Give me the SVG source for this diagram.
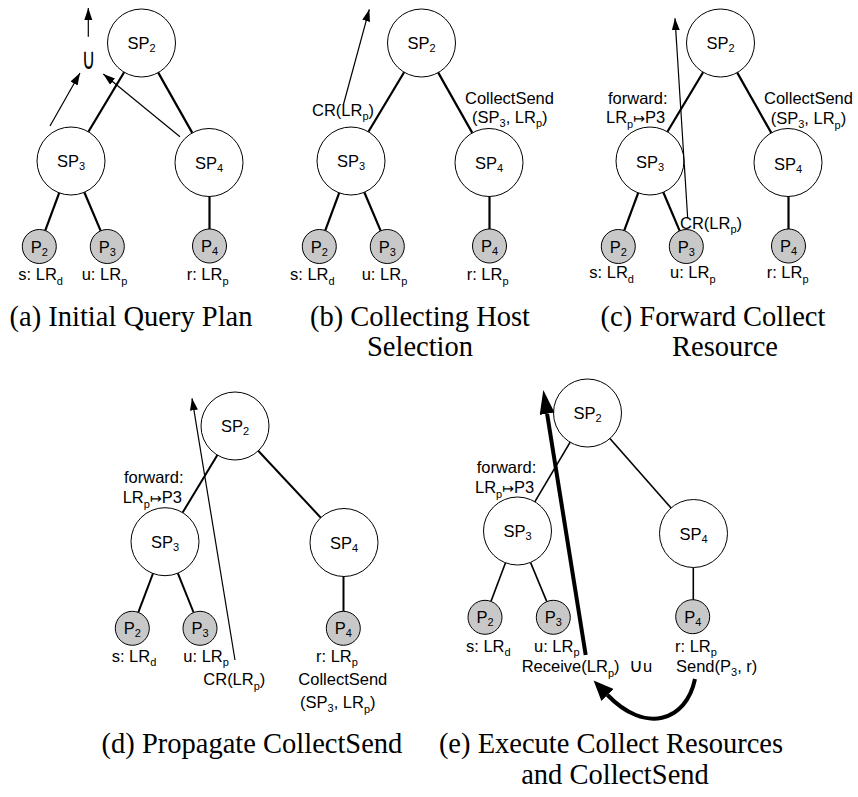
<svg xmlns="http://www.w3.org/2000/svg" width="858" height="797" viewBox="0 0 858 797">
<style>
.t{font-family:"Liberation Sans",Arial,sans-serif;font-size:16.5px;fill:#000}
.s{font-size:11px}
.m{font-family:"DejaVu Sans",sans-serif;font-size:14px}
.u{font-family:"DejaVu Sans",sans-serif}
.cap{font-family:"Liberation Serif","Times New Roman",serif;font-size:28.5px;fill:#000}
.big{fill:#fff;stroke:#000;stroke-width:1}
.sm{fill:#c8c8c8;stroke:#000;stroke-width:1}
.e{stroke:#000;stroke-width:2.2;fill:none}
.e2{stroke:#000;stroke-width:2;fill:none}
.e3{stroke:#000;stroke-width:1.6;fill:none}
.a{stroke:#000;stroke-width:1.2;fill:none;marker-end:url(#ah)}
</style>
<defs>
<marker id="ah" markerUnits="userSpaceOnUse" markerWidth="13" markerHeight="9" refX="12" refY="4" orient="auto"><path d="M0,0 L12,4 L0,8 z" fill="#000"/></marker>
<marker id="ahB" markerUnits="userSpaceOnUse" markerWidth="25" markerHeight="16" refX="0" refY="7.5" orient="auto"><path d="M0,0 L24,7.5 L0,15 z" fill="#000"/></marker>
<marker id="ahC" markerUnits="userSpaceOnUse" markerWidth="22" markerHeight="18" refX="0" refY="8.5" orient="auto"><path d="M0,0 L20,8.5 L0,17 z" fill="#000"/></marker>
</defs>
<rect width="858" height="797" fill="#fff"/>

<!-- Panel (a) -->
<g id="panel-a">
<g id="a-connectors">
<line class="e" x1="124.1" y1="72.2" x2="88.4" y2="131.8"/>
<line class="e" x1="158.2" y1="72.6" x2="192.3" y2="132.9"/>
<line class="e" x1="59.2" y1="192.9" x2="45.2" y2="230.6"/>
<line class="e" x1="84.3" y1="192.3" x2="100.7" y2="230.9"/>
<line class="e" x1="209.5" y1="196.5" x2="209.5" y2="229"/>
<line class="a" x1="50" y1="126" x2="80" y2="73"/>
<line class="a" x1="180" y1="136.7" x2="103.3" y2="74"/>
<line class="a" x1="88.3" y1="36.7" x2="88.3" y2="8"/>
</g>
<text class="t u" style="font-size:30px" transform="translate(88.5,68.5) scale(0.62,1)" text-anchor="middle">∪</text>
<g id="a-SP2"><circle class="big" cx="141.5" cy="43" r="34"/><text class="t" x="141.5" y="49" text-anchor="middle">SP<tspan class="s" dy="3">2</tspan></text></g>
<g id="a-SP3"><circle class="big" cx="71" cy="161" r="34"/><text class="t" x="71" y="167" text-anchor="middle">SP<tspan class="s" dy="3">3</tspan></text></g>
<g id="a-SP4"><circle class="big" cx="209" cy="162.5" r="34"/><text class="t" x="209" y="168.5" text-anchor="middle">SP<tspan class="s" dy="3">4</tspan></text></g>
<g id="a-P2"><circle class="sm" cx="39.3" cy="246.5" r="17"/><text class="t" x="39.3" y="252.5" text-anchor="middle">P<tspan class="s" dy="3">2</tspan></text><text class="t" x="18.3" y="280">s: LR<tspan class="s" dy="4.5">d</tspan></text></g>
<g id="a-P3"><circle class="sm" cx="107.3" cy="246.5" r="17"/><text class="t" x="107.3" y="252.5" text-anchor="middle">P<tspan class="s" dy="3">3</tspan></text><text class="t" x="81.7" y="280">u: LR<tspan class="s" dy="4.5">p</tspan></text></g>
<g id="a-P4"><circle class="sm" cx="209.5" cy="246" r="17"/><text class="t" x="209.5" y="252" text-anchor="middle">P<tspan class="s" dy="3">4</tspan></text><text class="t" x="186.7" y="280">r: LR<tspan class="s" dy="4.5">p</tspan></text></g>
<text class="cap" x="131" y="326" text-anchor="middle">(a) Initial Query Plan</text>
</g>

<!-- Panel (b) -->
<g id="panel-b" transform="translate(280,0)">
<g id="b-connectors">
<line class="e" x1="124.1" y1="72.2" x2="88.4" y2="131.8"/>
<line class="e" x1="158.2" y1="72.6" x2="192.3" y2="132.9"/>
<line class="e" x1="59.2" y1="192.9" x2="45.2" y2="230.6"/>
<line class="e" x1="84.3" y1="192.3" x2="100.7" y2="230.9"/>
<line class="e" x1="209.5" y1="196.5" x2="209.5" y2="229"/>
<line class="a" x1="63.3" y1="105" x2="89.3" y2="9.3"/>
</g>
<g id="b-SP2"><circle class="big" cx="141.5" cy="43" r="34"/><text class="t" x="141.5" y="49" text-anchor="middle">SP<tspan class="s" dy="3">2</tspan></text></g>
<g id="b-SP3"><circle class="big" cx="71" cy="161" r="34"/><text class="t" x="71" y="167" text-anchor="middle">SP<tspan class="s" dy="3">3</tspan></text></g>
<g id="b-SP4"><circle class="big" cx="209" cy="162.5" r="34"/><text class="t" x="209" y="168.5" text-anchor="middle">SP<tspan class="s" dy="3">4</tspan></text></g>
<g id="b-P2"><circle class="sm" cx="39.3" cy="246.5" r="17"/><text class="t" x="39.3" y="252.5" text-anchor="middle">P<tspan class="s" dy="3">2</tspan></text><text class="t" x="10" y="280">s: LR<tspan class="s" dy="4.5">d</tspan></text></g>
<g id="b-P3"><circle class="sm" cx="107.3" cy="246.5" r="17"/><text class="t" x="107.3" y="252.5" text-anchor="middle">P<tspan class="s" dy="3">3</tspan></text><text class="t" x="81.7" y="280">u: LR<tspan class="s" dy="4.5">p</tspan></text></g>
<g id="b-P4"><circle class="sm" cx="209.5" cy="246" r="17"/><text class="t" x="209.5" y="252" text-anchor="middle">P<tspan class="s" dy="3">4</tspan></text><text class="t" x="186.7" y="280">r: LR<tspan class="s" dy="4.5">p</tspan></text></g>
<text class="t" x="32" y="115.5">CR(LR<tspan class="s" dy="4.5">p</tspan><tspan dy="-4.5">)</tspan></text>
<text class="t" x="185" y="104">CollectSend</text>
<text class="t" x="192" y="122.5">(SP<tspan class="s" dy="4">3</tspan><tspan dy="-4">, LR</tspan><tspan class="s" dy="4.5">p</tspan><tspan dy="-4.5">)</tspan></text>
<text class="cap" x="140" y="326" text-anchor="middle">(b) Collecting Host</text>
<text class="cap" x="140" y="356" text-anchor="middle">Selection</text>
</g>

<!-- Panel (c) -->
<g id="panel-c" transform="translate(579,0)">
<g id="c-connectors">
<line class="e" x1="124.1" y1="72.2" x2="88.4" y2="131.8"/>
<line class="e" x1="158.2" y1="72.6" x2="192.3" y2="132.9"/>
<line class="e" x1="59.2" y1="192.9" x2="45.2" y2="230.6"/>
<line class="e" x1="84.3" y1="192.3" x2="100.7" y2="230.9"/>
<line class="e" x1="209.5" y1="196.5" x2="209.5" y2="229"/>
<line class="a" x1="108.7" y1="218.3" x2="96" y2="18.3"/>
</g>
<g id="c-SP2"><circle class="big" cx="141.5" cy="43" r="34"/><text class="t" x="141.5" y="49" text-anchor="middle">SP<tspan class="s" dy="3">2</tspan></text></g>
<g id="c-SP3"><circle class="big" cx="71" cy="161" r="34" fill-opacity="0"/><text class="t" x="71" y="168" text-anchor="middle">SP<tspan class="s" dy="3">3</tspan></text></g>
<g id="c-SP4"><circle class="big" cx="209" cy="162.5" r="34"/><text class="t" x="209" y="169.5" text-anchor="middle">SP<tspan class="s" dy="3">4</tspan></text></g>
<g id="c-P2"><circle class="sm" cx="39.3" cy="246.5" r="17"/><text class="t" x="39.3" y="252.5" text-anchor="middle">P<tspan class="s" dy="3">2</tspan></text><text class="t" x="10.3" y="278.3">s: LR<tspan class="s" dy="4.5">d</tspan></text></g>
<g id="c-P3"><circle class="sm" cx="107.3" cy="246.5" r="17"/><text class="t" x="107.3" y="252.5" text-anchor="middle">P<tspan class="s" dy="3">3</tspan></text><text class="t" x="91" y="278.3">u: LR<tspan class="s" dy="4.5">p</tspan></text></g>
<g id="c-P4"><circle class="sm" cx="209.5" cy="246" r="17"/><text class="t" x="209.5" y="252" text-anchor="middle">P<tspan class="s" dy="3">4</tspan></text><text class="t" x="187.7" y="278.3">r: LR<tspan class="s" dy="4.5">p</tspan></text></g>
<text class="t" x="29" y="104">forward:</text>
<text class="t" x="27" y="123">LR<tspan class="s" dy="4.5">p</tspan><tspan class="m" dy="-4.5">↦</tspan>P3</text>
<text class="t" x="185" y="104">CollectSend</text>
<text class="t" x="191.7" y="124">(SP<tspan class="s" dy="4">3</tspan><tspan dy="-4">, LR</tspan><tspan class="s" dy="4.5">p</tspan><tspan dy="-4.5">)</tspan></text>
<text class="t" x="101" y="228.5">CR(LR<tspan class="s" dy="4.5">p</tspan><tspan dy="-4.5">)</tspan></text>
<text class="cap" x="134" y="326" text-anchor="middle">(c) Forward Collect</text>
<text class="cap" x="146" y="356" text-anchor="middle">Resource</text>
</g>

<!-- Panel (d) -->
<g id="panel-d">
<g id="d-connectors">
<line class="e2" x1="217.4" y1="455.1" x2="182.6" y2="512.6"/>
<line class="e2" x1="258.2" y1="450.8" x2="320.8" y2="517.7"/>
<line class="e2" x1="153" y1="573.5" x2="138.3" y2="612.4"/>
<line class="e2" x1="177.8" y1="573.2" x2="193.6" y2="612.5"/>
<line class="e2" x1="343.5" y1="576.5" x2="343.5" y2="611.3"/>
<line class="a" x1="235" y1="660" x2="192" y2="398.3"/>
</g>
<g id="d-SP2"><circle class="big" cx="235" cy="426" r="34" fill-opacity="0"/><text class="t" x="235" y="432" text-anchor="middle">SP<tspan class="s" dy="3">2</tspan></text></g>
<g id="d-SP3"><circle class="big" cx="165" cy="541.7" r="34"/><text class="t" x="165" y="547.7" text-anchor="middle">SP<tspan class="s" dy="3">3</tspan></text></g>
<g id="d-SP4"><circle class="big" cx="344" cy="542.5" r="34"/><text class="t" x="344" y="548.5" text-anchor="middle">SP<tspan class="s" dy="3">4</tspan></text></g>
<g id="d-P2"><circle class="sm" cx="132.3" cy="628.3" r="17"/><text class="t" x="132.3" y="634.3" text-anchor="middle">P<tspan class="s" dy="3">2</tspan></text><text class="t" x="111.7" y="661.7">s: LR<tspan class="s" dy="4.5">d</tspan></text></g>
<g id="d-P3"><circle class="sm" cx="200" cy="628.3" r="17"/><text class="t" x="200" y="634.3" text-anchor="middle">P<tspan class="s" dy="3">3</tspan></text><text class="t" x="183.3" y="661.7">u: LR<tspan class="s" dy="4.5">p</tspan></text></g>
<g id="d-P4"><circle class="sm" cx="343.3" cy="628.3" r="17"/><text class="t" x="343.3" y="634.3" text-anchor="middle">P<tspan class="s" dy="3">4</tspan></text><text class="t" x="316" y="661.7">r: LR<tspan class="s" dy="4.5">p</tspan></text></g>
<text class="t" x="124" y="483">forward:</text>
<text class="t" x="122.7" y="503">LR<tspan class="s" dy="4.5">p</tspan><tspan class="m" dy="-4.5">↦</tspan>P3</text>
<text class="t" x="203.3" y="685">CR(LR<tspan class="s" dy="4.5">p</tspan><tspan dy="-4.5">)</tspan></text>
<text class="t" x="298.3" y="685">CollectSend</text>
<text class="t" x="300" y="708">(SP<tspan class="s" dy="4">3</tspan><tspan dy="-4">, LR</tspan><tspan class="s" dy="4.5">p</tspan><tspan dy="-4.5">)</tspan></text>
<text class="cap" x="252" y="753" text-anchor="middle">(d) Propagate CollectSend</text>
</g>

<!-- Panel (e) -->
<g id="panel-e">
<g id="e-connectors">
<line class="e3" x1="570.2" y1="442.2" x2="534.8" y2="501.8"/>
<line class="e3" x1="609.9" y1="438.5" x2="671.1" y2="508"/>
<line class="e3" x1="505.5" y1="562.8" x2="491" y2="601.4"/>
<line class="e3" x1="530.5" y1="562.4" x2="546.8" y2="601.6"/>
<line class="e3" x1="693.3" y1="567.5" x2="693.3" y2="600"/>
<line x1="585.7" y1="655" x2="547.1" y2="413.7" stroke="#000" stroke-width="4" marker-end="url(#ahB)"/>
<path d="M695,679 C686,722 645,734 607.5,695" fill="none" stroke="#000" stroke-width="4" marker-end="url(#ahC)"/>
</g>
<g id="e-SP2"><circle class="big" cx="587.5" cy="413" r="34" fill-opacity="0"/><text class="t" x="587.5" y="419" text-anchor="middle">SP<tspan class="s" dy="3">2</tspan></text></g>
<g id="e-SP3"><circle class="big" cx="517.5" cy="531" r="34"/><text class="t" x="517.5" y="537" text-anchor="middle">SP<tspan class="s" dy="3">3</tspan></text></g>
<g id="e-SP4"><circle class="big" cx="693.5" cy="533.5" r="34"/><text class="t" x="693.5" y="539.5" text-anchor="middle">SP<tspan class="s" dy="3">4</tspan></text></g>
<g id="e-P2"><circle class="sm" cx="485" cy="617.3" r="17"/><text class="t" x="485" y="623.3" text-anchor="middle">P<tspan class="s" dy="3">2</tspan></text><text class="t" x="466" y="651.7">s: LR<tspan class="s" dy="4.5">d</tspan></text></g>
<g id="e-P3"><circle class="sm" cx="553.3" cy="617.3" r="17"/><text class="t" x="553.3" y="623.3" text-anchor="middle">P<tspan class="s" dy="3">3</tspan></text><text class="t" x="534" y="651.7">u: LR<tspan class="s" dy="4.5">p</tspan></text></g>
<g id="e-P4"><circle class="sm" cx="692.7" cy="616.7" r="17"/><text class="t" x="692.7" y="622.7" text-anchor="middle">P<tspan class="s" dy="3">4</tspan></text><text class="t" x="675" y="651.7">r: LR<tspan class="s" dy="4.5">p</tspan></text></g>
<text class="t" x="476.7" y="473.3">forward:</text>
<text class="t" x="475" y="493.3">LR<tspan class="s" dy="4.5">p</tspan><tspan class="m" dy="-4.5">↦</tspan>P3</text>
<text class="t" x="521.7" y="672.3">Receive(LR<tspan class="s" dy="4.5">p</tspan><tspan dy="-4.5">)</tspan></text>
<text class="t" x="629" y="672.3"><tspan class="u" style="font-size:19px">∪</tspan>u</text>
<text class="t" x="676" y="672.3">Send(P<tspan class="s" dy="4">3</tspan><tspan dy="-4">, r)</tspan></text>
<text class="cap" x="611" y="753" text-anchor="middle">(e) Execute Collect Resources</text>
<text class="cap" x="615" y="784" text-anchor="middle">and CollectSend</text>
</g>
</svg>
